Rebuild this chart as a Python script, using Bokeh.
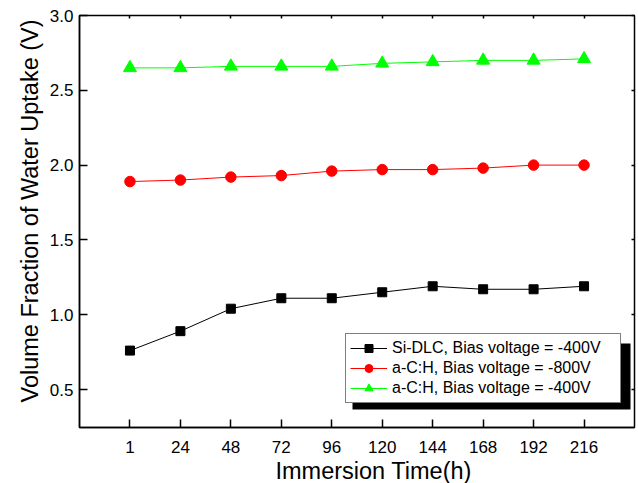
from bokeh.plotting import figure
from bokeh.models import (FixedTicker, NumeralTickFormatter, Legend, LegendItem,
                          LinearAxis, Title, BoxAnnotation, PrintfTickFormatter)
from bokeh.embed import file_html
from bokeh.resources import INLINE

# ---- data ----
hours = ["1", "24", "48", "72", "96", "120", "144", "168", "192", "216"]
si_dlc_400 = [0.76, 0.89, 1.04, 1.11, 1.11, 1.15, 1.19, 1.17, 1.17, 1.19]
ach_800 = [1.89, 1.90, 1.92, 1.93, 1.96, 1.97, 1.97, 1.98, 2.00, 2.00]
ach_400 = [2.65, 2.65, 2.66, 2.66, 2.66, 2.68, 2.69, 2.70, 2.70, 2.71]
y_ticks = [0.5, 1.0, 1.5, 2.0, 2.5, 3.0]
labels = ["Si-DLC, Bias voltage = -400V",
          "a-C:H, Bias voltage = -800V",
          "a-C:H, Bias voltage = -400V"]
x_title = "Immersion Time(h)"
y_title = "Volume Fraction of Water Uptake (V)"

x = list(range(len(hours)))
FONT = "Liberation Sans"

p = figure(width=638, height=483, output_backend="svg", toolbar_location=None,
           x_range=(-1, len(hours)), y_range=(0.246, 3.0),
           min_border_left=79, min_border_right=4, min_border_top=15,
           min_border_bottom=56)
p.grid.visible = False
p.outline_line_color = "black"
p.outline_line_width = 1.5
p.background_fill_color = "white"
p.border_fill_color = "white"

# axes
xa = p.xaxis[0]
xa.ticker = FixedTicker(ticks=x)
xa.major_label_overrides = {i: h for i, h in zip(x, hours)}
ya = p.yaxis[0]
ya.ticker = FixedTicker(ticks=y_ticks)
ya.formatter = NumeralTickFormatter(format="0.0")
for ax in (xa, ya):
    ax.major_tick_in = 8
    ax.major_tick_out = 0
    ax.minor_tick_in = 0
    ax.minor_tick_out = 0
    ax.axis_line_width = 1.5
    ax.major_tick_line_width = 1.5
    ax.major_label_text_font = FONT
    ax.major_label_text_font_size = "17px"
    ax.major_label_text_color = "black"
xa.major_label_standoff = 13
ya.major_label_standoff = 6

# frame ticks on top and right
top = LinearAxis(ticker=FixedTicker(ticks=x), formatter=PrintfTickFormatter(format=""))
right = LinearAxis(ticker=FixedTicker(ticks=y_ticks), formatter=PrintfTickFormatter(format=""))
for ax in (top, right):
    ax.major_tick_in = 3
    ax.major_tick_out = 0
    ax.minor_tick_in = 0
    ax.minor_tick_out = 0
    ax.major_label_standoff = 0
    ax.major_label_text_font_size = "0px"
    ax.axis_line_color = None
    ax.major_tick_line_width = 1.5
p.add_layout(top, "above")
p.add_layout(right, "right")

# titles
p.add_layout(Title(text=x_title, align="left", offset=196, text_font=FONT,
                   text_font_size="23.5px", text_font_style="normal",
                   text_color="black", standoff=0), "below")
p.add_layout(Title(text=y_title, align="left", offset=25, text_font=FONT,
                   text_font_size="23.5px", text_font_style="normal",
                   text_color="black", standoff=8), "left")

# series
l1 = p.line(x, si_dlc_400, line_color="black", line_width=1)
s1 = p.scatter(x, si_dlc_400, marker="square", size=9, fill_color="black", line_color="black")
l2 = p.line(x, ach_800, line_color="#ff0000", line_width=1)
s2 = p.scatter(x, ach_800, marker="circle", size=10.5, fill_color="#ff0000", line_color="#ff0000")
l3 = p.line(x, ach_400, line_color="#00ff00", line_width=1)
s3 = p.scatter(x, ach_400, marker="triangle", size=13, fill_color="#00ff00", line_color="#00ff00")

# legend shadow
shadow = BoxAnnotation(left=273, right=551, top=84, bottom=18,
                       left_units="screen", right_units="screen",
                       top_units="screen", bottom_units="screen",
                       fill_color="black", fill_alpha=1.0, line_color=None)
p.add_layout(shadow)

legend = Legend(items=[LegendItem(label=labels[0], renderers=[l1, s1]),
                       LegendItem(label=labels[1], renderers=[l2, s2]),
                       LegendItem(label=labels[2], renderers=[l3, s3])],
                location=(266, 24), margin=0, padding=4, spacing=0,
                glyph_width=37, glyph_height=20, label_height=20, label_width=224,
                label_standoff=5, label_text_font=FONT, label_text_font_size="16px",
                label_text_color="black",
                border_line_color="black", border_line_width=1,
                background_fill_color="white", background_fill_alpha=1.0)
p.add_layout(legend)

open("out.html", "w").write(file_html(p, INLINE))
